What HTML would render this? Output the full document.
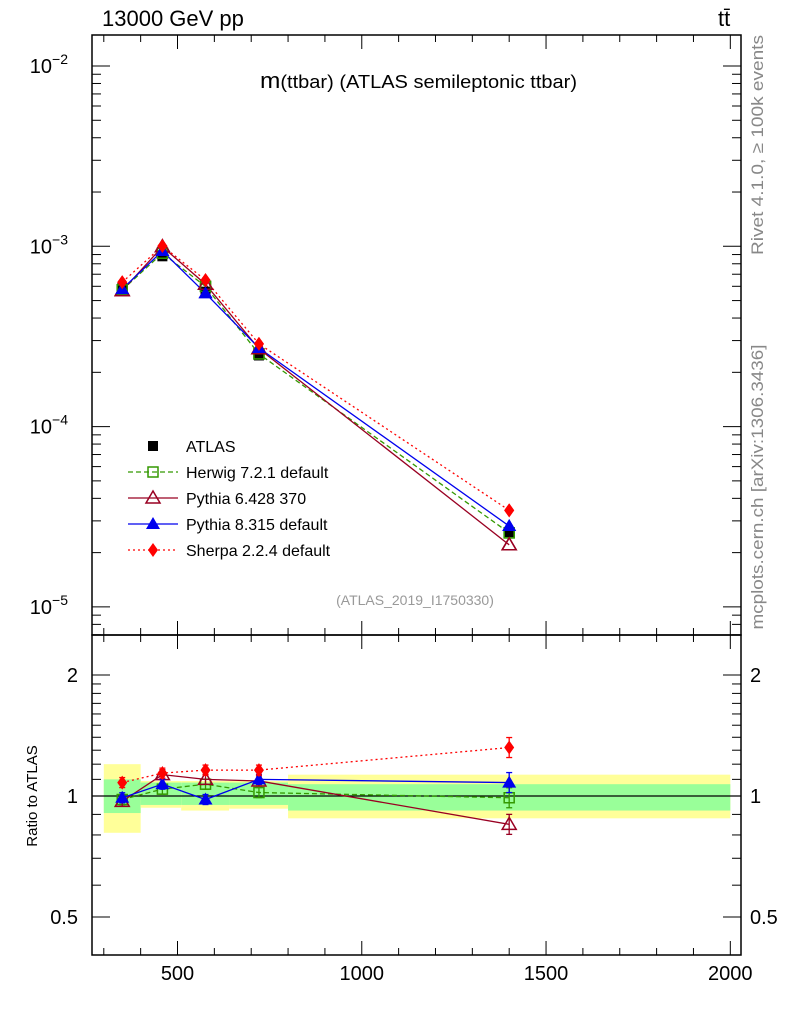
<!DOCTYPE html>
<html><head><meta charset="utf-8"><style>
html,body{margin:0;padding:0;background:#fff;}
svg{display:block;font-family:"Liberation Sans",sans-serif;}
</style></head><body>
<svg id="c" width="786" height="1024" viewBox="0 0 786 1024"></svg>
<script>
const bins=[300,400,510,640,800,2000];
const xs=[350,459,576,721,1400];
const atlas=[5.85e-4,8.8e-4,5.6e-4,2.48e-4,2.6e-5];
const herwigR=[0.98,1.04,1.07,1.02,0.99];
const py6R=[0.97,1.13,1.10,1.09,0.85];
const py8R=[0.99,1.07,0.98,1.10,1.08];
const sherpaR=[1.08,1.14,1.16,1.16,1.32];
const yelHi=[1.2,1.09,1.09,1.09,1.13];
const yelLo=[0.81,0.935,0.92,0.93,0.88];
const grnHi=[1.1,1.08,1.08,1.08,1.07];
const grnLo=[0.907,0.95,0.95,0.95,0.92];
const xTicks=[500,1000,1500,2000];
const yExp=[-2,-3,-4,-5];
const rTicks=[0.5,1,2];

const NS="http://www.w3.org/2000/svg";
const svg=document.getElementById('c');
const L=92,R=741,T=35,M=635,B=955;
const X0=268,X1=2029;
function X(v){return L+(v-X0)/(X1-X0)*(R-L);}
function Y(v){return 66+(-2-Math.log10(v))*180.3;}
function RY(r){return 796-121*Math.log2(r);}
function el(t,a,p){const e=document.createElementNS(NS,t);for(const k in a)e.setAttribute(k,a[k]);(p||svg).appendChild(e);return e;}
function txt(s,a){const e=el('text',a);e.textContent=s;return e;}

for(let i=0;i<xs.length;i++){
  const b1=el('rect',{x:X(bins[i]),y:RY(yelHi[i]),width:X(bins[i+1])-X(bins[i]),height:RY(yelLo[i])-RY(yelHi[i]),fill:'#ffff99'});
  
  const b2=el('rect',{x:X(bins[i]),y:RY(grnHi[i]),width:X(bins[i+1])-X(bins[i]),height:RY(grnLo[i])-RY(grnHi[i]),fill:'#99ff99'});
  
}
el('line',{x1:L,x2:R,y1:RY(1),y2:RY(1),stroke:'#000','stroke-width':1.3});

const f1=el('rect',{x:L,y:T,width:R-L,height:M-T,fill:'none',stroke:'#000','stroke-width':1.5});

const f2=el('rect',{x:L,y:M,width:R-L,height:B-M,fill:'none',stroke:'#000','stroke-width':1.5});


for(let v=300;v<=2000;v+=100){
  const maj=v%500===0, h=maj?14:7;
  [[T,1],[M,-1],[M,1],[B,-1]].forEach(([y,d])=>el('line',{x1:X(v),x2:X(v),y1:y,y2:y+d*h,stroke:'#000','stroke-width':1}));
}
xTicks.forEach(v=>{const t=txt(String(v),{x:X(v),y:980,'font-size':20,'text-anchor':'middle'});
});

for(let e=-6;e<=-2;e++){for(let m=1;m<10;m++){const v=m*Math.pow(10,e),y=Y(v);if(y<T||y>M)continue;
 const h=m===1?18:9;el('line',{x1:L,x2:L+h,y1:y,y2:y,stroke:'#000'});el('line',{x1:R,x2:R-h,y1:y,y2:y,stroke:'#000'});}}
yExp.forEach(e=>{const t=el('text',{x:68,y:Y(Math.pow(10,e))+7,'font-size':20,'text-anchor':'end'});

t.appendChild(document.createTextNode('10'));const s=el('tspan',{dy:-9,'font-size':14},t);s.textContent='\u2212'+(-e);});

[0.5,0.6,0.7,0.8,0.9,1,1.1,1.2,1.3,1.4,1.5,1.6,1.7,1.8,1.9,2].forEach(r=>{const y=RY(r);if(y<M||y>B)return;
 const h=(r===0.5||r===1||r===2)?18:9;el('line',{x1:L,x2:L+h,y1:y,y2:y,stroke:'#000'});el('line',{x1:R,x2:R-h,y1:y,y2:y,stroke:'#000'});});
rTicks.forEach(r=>{const a=txt(String(r),{x:78,y:RY(r)+7,'font-size':20,'text-anchor':'end'});

const b=txt(String(r),{x:750,y:RY(r)+7,'font-size':20});
});

function marker(kind,x,y,col){
  if(kind==='sq')return el('rect',{x:x-5,y:y-5,width:10,height:10,fill:'#000'});
  if(kind==='osq')return el('rect',{x:x-5,y:y-5,width:10,height:10,fill:'none',stroke:col,'stroke-width':1.5});
  if(kind==='otri')return el('polygon',{points:`${x},${y-7} ${x-7},${y+5} ${x+7},${y+5}`,fill:'none',stroke:col,'stroke-width':1.5});
  if(kind==='tri')return el('polygon',{points:`${x},${y-7} ${x-7},${y+5} ${x+7},${y+5}`,fill:col});
  if(kind==='dia')return el('polygon',{points:`${x},${y-7} ${x-5},${y} ${x},${y+7} ${x+5},${y}`,fill:col});
}
const series=[
 {n:'herwig',r:herwigR,c:'#339900',m:'osq',d:'5,3',label:'Herwig 7.2.1 default'},
 {n:'pythia6',r:py6R,c:'#990022',m:'otri',d:'',label:'Pythia 6.428 370'},
 {n:'pythia8',r:py8R,c:'#0000ee',m:'tri',d:'',label:'Pythia 8.315 default'},
 {n:'sherpa',r:sherpaR,c:'#ff0000',m:'dia',d:'2,3',label:'Sherpa 2.2.4 default'}];
series.forEach(s=>{
  const pm=xs.map((x,i)=>X(x)+','+Y(atlas[i]*s.r[i])).join(' ');
  const l1=el('polyline',{points:pm,fill:'none',stroke:s.c,'stroke-width':1.3,'stroke-dasharray':s.d});
  
  const pr=xs.map((x,i)=>X(x)+','+RY(s.r[i])).join(' ');
  const l2=el('polyline',{points:pr,fill:'none',stroke:s.c,'stroke-width':1.3,'stroke-dasharray':s.d});
  
  xs.forEach((x,i)=>{
    const m1=marker(s.m,X(x),Y(atlas[i]*s.r[i]),s.c);
    
    const y=RY(s.r[i]),e=(i===4?10:5);
    el('line',{x1:X(x),x2:X(x),y1:y-e,y2:y+e,stroke:s.c,'stroke-width':1.3});
    el('line',{x1:X(x)-3,x2:X(x)+3,y1:y-e,y2:y-e,stroke:s.c,'stroke-width':1.3});
    el('line',{x1:X(x)-3,x2:X(x)+3,y1:y+e,y2:y+e,stroke:s.c,'stroke-width':1.3});
    const m2=marker(s.m,X(x),y,s.c);
    
  });
});
xs.forEach((x,i)=>{const m=marker('sq',X(x),Y(atlas[i]));
});
series.forEach(s=>{xs.forEach((x,i)=>{marker(s.m,X(x),Y(atlas[i]*s.r[i]),s.c);});});

const leg=el('g',{});
const ly=[446,472,498,524,550];
marker('sq',153,ly[0]);
txt('ATLAS',{x:186,y:ly[0]+6,'font-size':16});
series.forEach((s,i)=>{const y=ly[i+1];
 el('line',{x1:128,x2:178,y1:y,y2:y,stroke:s.c,'stroke-width':1.3,'stroke-dasharray':s.d});
 marker(s.m,153,y,s.c);
 const t=txt(s.label,{x:186,y:y+6,'font-size':16});});

const t1=txt('13000 GeV pp',{x:102,y:26,'font-size':22});
const t2=txt('tt\u0304',{x:718,y:26,'font-size':22});
const t3=el('text',{x:260,y:88,'font-size':18,textLength:317,lengthAdjust:'spacingAndGlyphs'});
const ts=el('tspan',{'font-size':22},t3);ts.textContent='m';t3.appendChild(document.createTextNode('(ttbar) (ATLAS semileptonic ttbar)'));
const t4=txt('(ATLAS_2019_I1750330)',{x:415,y:605,'font-size':14,fill:'#999','text-anchor':'middle'});
const t5=txt('Ratio to ATLAS',{x:0,y:0,'font-size':15,'text-anchor':'middle',transform:'translate(37,796) rotate(-90)'});
const t6=txt('Rivet 4.1.0, \u2265 100k events',{x:0,y:0,'font-size':17,fill:'#888','text-anchor':'middle',textLength:220,lengthAdjust:'spacingAndGlyphs',transform:'translate(763,145) rotate(-90)'});
const t7=txt('mcplots.cern.ch [arXiv:1306.3436]',{x:0,y:0,'font-size':17,fill:'#888','text-anchor':'middle',textLength:285,lengthAdjust:'spacingAndGlyphs',transform:'translate(763,487) rotate(-90)'});
</script>
</body></html>
